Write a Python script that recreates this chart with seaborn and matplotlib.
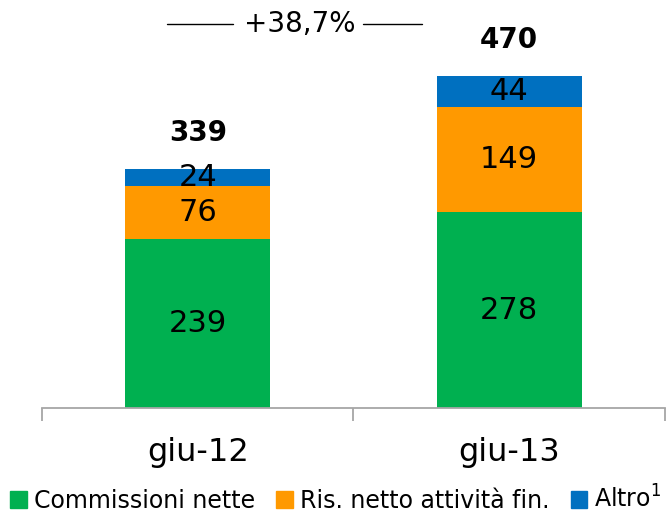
"""
Composizione ricavi giu-12 / giu-13 - barre impilate.
"""

import matplotlib
matplotlib.use("Agg")
import matplotlib.pyplot as plt
import seaborn as sns
import pandas as pd

# dati
periodi = ["giu-12", "giu-13"]
commissioni = [239, 278]
ris_netto = [76, 149]
altro = [24, 44]
totali = [339, 470]
crescita = "+38,7%"

serie_labels = ["Commissioni nette", "Ris. netto attività fin.", "Altro$^{1}$"]
colori = ["#00B050", "#FF9900", "#0070C0"]

sns.set_theme(style="white")
plt.rcParams["font.family"] = ["DejaVu Sans"]
plt.rcParams["text.color"] = "black"
plt.rcParams["xtick.color"] = "black"

df = pd.DataFrame({
    "periodo": periodi,
    "commissioni": commissioni,
    "ris_netto": ris_netto,
    "altro": altro,
})
# cumulati per disegnare le barre sovrapposte
df["liv1"] = df["commissioni"]
df["liv2"] = df["liv1"] + df["ris_netto"]
df["liv3"] = df["liv2"] + df["altro"]

fig = plt.figure(figsize=(6.72, 5.12), dpi=100)
ax = fig.add_axes([0.0625, 0.203, 0.927, 0.777])

bw = 0.466
for col, c in zip(["liv3", "liv2", "liv1"], colori[::-1]):
    sns.barplot(data=df, x="periodo", y=col, color=c, width=bw,
                saturation=1, ax=ax, linewidth=0)

ax.set_xlim(-0.5, 1.5)
ax.set_ylim(0, 564)

# etichette dei segmenti
for i in range(len(periodi)):
    base = 0
    for vals in (commissioni, ris_netto, altro):
        ax.text(i, base + vals[i] / 2, str(vals[i]), ha="center", va="center",
                fontsize=22, color="black")
        base += vals[i]
    ax.annotate(str(totali[i]), (i, totali[i]), xytext=(0, 26),
                textcoords="offset points", ha="center", va="center",
                fontsize=20, fontweight="bold", color="black")

# freccia crescita
y_cr = 544
ax.text(0.326, y_cr, crescita, ha="center", va="center", fontsize=20)
ax.plot([-0.098, 0.114], [y_cr, y_cr], color="black", lw=1)
ax.plot([0.529, 0.719], [y_cr, y_cr], color="black", lw=1)

# assi
for s in ["top", "left", "right"]:
    ax.spines[s].set_visible(False)
ax.spines["bottom"].set_color("#A6A6A6")
ax.spines["bottom"].set_linewidth(1.3)
ax.set_yticks([])
ax.set_xlabel("")
ax.set_ylabel("")
ax.set_xticks([0, 1])
ax.set_xticklabels(periodi, fontsize=23)
ax.tick_params(axis="x", which="major", length=0, pad=21)
ax.set_xticks([-0.5, 0.5, 1.5], minor=True)
ax.tick_params(axis="x", which="minor", bottom=True, length=9, width=1.3,
               color="#A6A6A6", direction="out")

handles = [plt.Rectangle((0, 0), 1, 1, color=c) for c in colori]
fig.legend(handles, serie_labels, loc="center", ncol=3,
           bbox_to_anchor=(0.5, 0.025), frameon=False, fontsize=17,
           handlelength=0.7, handleheight=0.7, handletextpad=0.3,
           columnspacing=0.9, borderaxespad=0.0, borderpad=0.0)

fig.savefig("out.png", dpi=100)
plt.close(fig)
